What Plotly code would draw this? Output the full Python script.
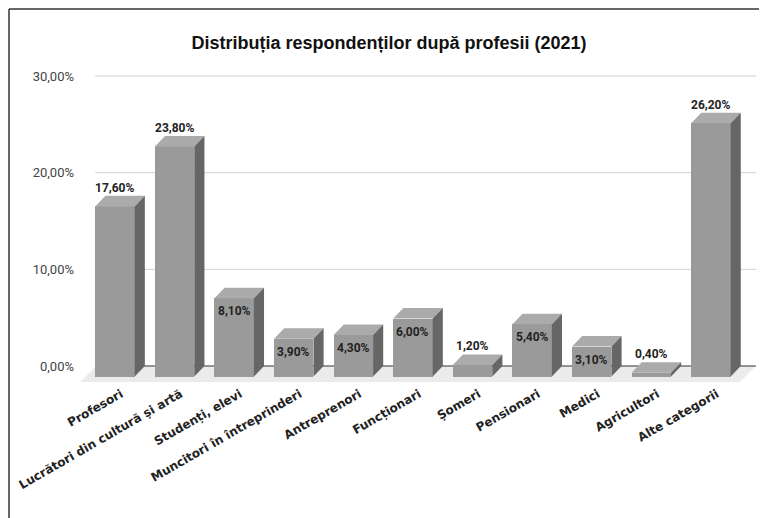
import plotly.graph_objects as go

# ---------------- data ----------------
categories = ["Profesori", "Lucrători din cultură și artă", "Studenți, elevi",
              "Muncitori în întreprinderi", "Antreprenori", "Funcționari",
              "Șomeri", "Pensionari", "Medici", "Agricultori", "Alte categorii"]
values = [17.6, 23.8, 8.1, 3.9, 4.3, 6.0, 1.2, 5.4, 3.1, 0.4, 26.2]
y_ticks = [0, 10, 20, 30]
y_tick_labels = ["0,00%", "10,00%", "20,00%", "30,00%"]
title = "Distribuția respondenților după profesii (2021)"

# ---------------- geometry ----------------
OFF = 8  # page body margin
W, H = 767 - OFF, 518 - OFF
PLOT_BOTTOM = 384
ML, MR, MT = 75 - OFF, 12 - OFF, 60 - OFF
MB = H - (PLOT_BOTTOM - OFF)
PXPU = 9.667
XR = [-0.671, 10.874]
YR = [(366 - PLOT_BOTTOM) / PXPU, 31.65]
hw = 0.331          # half width of front face
dx = 0.17           # depth offset (x)
dy = 1.09           # depth offset (y, %)

FRONT = "#9a9a9a"
TOP = "#ababab"
SIDE = "#666666"

def fmt(v):
    return f"{v:.2f}".replace(".", ",") + "%"

n = len(categories)
xs = list(range(n))

fig = go.Figure()

# front faces as bars
fig.add_trace(go.Bar(
    x=xs, y=values, base=[-dy] * n, width=2 * hw,
    marker=dict(color=FRONT, line=dict(width=0)),
    hoverinfo="skip", showlegend=False))

# top and side faces
tx, ty, sx, sy = [], [], [], []
for i, v in zip(xs, values):
    x0, x1 = i - hw, i + hw
    tx += [x0, x1, x1 + dx, x0 + dx, x0, None]
    ty += [v - dy, v - dy, v, v, v - dy, None]
    sx += [x1, x1, x1 + dx, x1 + dx, x1, None]
    sy += [-dy, v - dy, v, 0, -dy, None]
fig.add_trace(go.Scatter(x=tx, y=ty, fill="toself", fillcolor=TOP, mode="lines",
                         line=dict(width=0, color=TOP), hoverinfo="skip", showlegend=False))
fig.add_trace(go.Scatter(x=sx, y=sy, fill="toself", fillcolor=SIDE, mode="lines",
                         line=dict(width=0, color=SIDE), hoverinfo="skip", showlegend=False))

# floor, gridlines
gx0, gx1 = -hw, n - 1 + 0.755
floor_y = -1.655
shapes = [dict(type="path", xref="x", yref="y", layer="below",
               path=f"M {-0.586},{floor_y} L {gx0 + 0.017},0 L {gx1},0 L {gx1 - 0.271},{floor_y} Z",
               fillcolor="#ebebeb", line=dict(width=0))]
for t in y_ticks[1:]:
    shapes.append(dict(type="line", xref="x", yref="y", layer="below",
                       x0=gx0, x1=gx1, y0=t, y1=t, line=dict(color="#d0d0d0", width=1)))
shapes.append(dict(type="line", xref="x", yref="y", layer="below",
                   x0=gx0, x1=gx1, y0=0, y1=0, line=dict(color="#333333", width=1.2)))

# outer frame (left and top)
pw, ph = W - ML - MR, H - MT - MB
lx = (1 - ML) / pw
ty_ = (H - MB - 1) / ph
shapes.append(dict(type="line", xref="paper", yref="paper", x0=lx, x1=lx,
                   y0=-MB / ph - 0.1, y1=ty_, line=dict(color="#333333", width=1.5)))
shapes.append(dict(type="line", xref="paper", yref="paper", x0=lx, x1=(W - ML) / pw + 0.1,
                   y0=ty_, y1=ty_, line=dict(color="#333333", width=1.5)))

# value labels
annotations = []
for i, v in zip(xs, values):
    inside = 2 < v < 10
    annotations.append(dict(
        x=i, y=(v - dy) if inside else v, xref="x", yref="y",
        text=f"<b>{fmt(v)}</b>", showarrow=False, yanchor="middle",
        yshift=-13 if inside else 8,
        font=dict(family="Roboto", size=12, color="#222222")))

fig.update_layout(
    width=W, height=H,
    margin=dict(l=ML, r=MR, t=MT, b=MB),
    paper_bgcolor="white", plot_bgcolor="white",
    title=dict(text=f"<b>{title}</b>", x=(389 - OFF) / W, xref="container", xanchor="center",
               y=1 - (43 - OFF) / H, yref="container", yanchor="middle",
               font=dict(family="Liberation Sans, Arial", size=18, color="#111111")),
    xaxis=dict(range=XR, tickmode="array", tickvals=xs,
               ticktext=[f"<b>{c}</b>" for c in categories],
               tickangle=-30, showgrid=False, zeroline=False, showline=False,
               ticks="", ticklabelshift=6,
               tickfont=dict(family="DejaVu Sans", size=12, color="#222222"),
               fixedrange=True),
    yaxis=dict(range=YR, tickmode="array", tickvals=y_ticks, ticktext=y_tick_labels,
               showgrid=False, zeroline=False, showline=False, ticks="",
               tickfont=dict(family="Roboto", size=13, color="#444444"),
               fixedrange=True),
    shapes=shapes, annotations=annotations,
    bargap=0, showlegend=False,
)

fig.write_html("out.html")
